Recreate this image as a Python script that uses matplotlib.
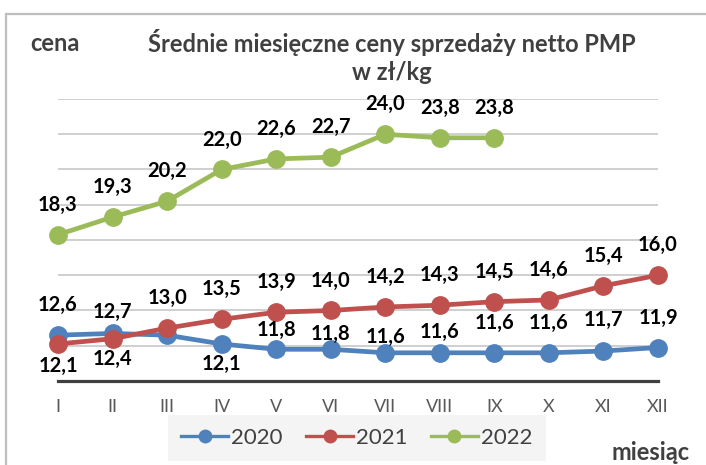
import matplotlib.pyplot as plt
from matplotlib.patches import Rectangle

plt.rcParams['font.family'] = ['Lato', 'DejaVu Sans']

months = ['I', 'II', 'III', 'IV', 'V', 'VI', 'VII', 'VIII', 'IX', 'X', 'XI', 'XII']
ceny_2020 = [12.6, 12.7, 12.6, 12.1, 11.8, 11.8, 11.6, 11.6, 11.6, 11.6, 11.7, 11.9]
ceny_2021 = [12.1, 12.4, 13.0, 13.5, 13.9, 14.0, 14.2, 14.3, 14.5, 14.6, 15.4, 16.0]
ceny_2022 = [18.3, 19.3, 20.2, 22.0, 22.6, 22.7, 24.0, 23.8, 23.8]

# label offsets in pixels (positive = above point), None = no label
off_2020 = [30, 21, None, -20, 19, 15, 16, 21, 30, 30, 31, 30]
off_2021 = [-22, -20] + [30] * 10
off_2022 = [30] * 9

kolory = {'2020': '#4F81BD', '2021': '#C0504D', '2022': '#9BBB59'}

W, H = 706, 465
fig = plt.figure(figsize=(W / 100, H / 100), dpi=100)
ax = fig.add_axes((58 / W, 1 - 381 / H, 600 / W, 282 / H))

# outer chart border (only left/top visible)
fig.patches.append(Rectangle((6 / W, -0.2), 1.2, 1.2 - 14 / H, transform=fig.transFigure,
                             fill=False, edgecolor='#bfbfbf', linewidth=1.6))

x = list(range(12))
for rok, vals, offs in [('2020', ceny_2020, off_2020), ('2021', ceny_2021, off_2021),
                        ('2022', ceny_2022, off_2022)]:
    xs = x[:len(vals)]
    ax.plot(xs, vals, color=kolory[rok], linewidth=3.4, marker='o', markersize=12.5,
            label=rok, clip_on=False, zorder=3)
    for xi, v, o in zip(xs, vals, offs):
        if o is None:
            continue
        ax.annotate(f'{v:.1f}'.replace('.', ','), (xi, v), xytext=(0, o * 0.72),
                    textcoords='offset points', ha='center', va='center',
                    fontsize=14.5, fontweight='bold', color='black', zorder=4)

ax.set_xlim(0, 11)
ax.set_ylim(10, 26)
ax.set_yticks(range(12, 27, 2))
ax.set_yticklabels([])
ax.tick_params(axis='y', length=0)
ax.grid(axis='y', color='#cccccc', linewidth=1.3)
ax.set_axisbelow(True)
ax.set_xticks(x)
ax.set_xticklabels(months, color='#595959', fontsize=13)
ax.tick_params(axis='x', length=0, pad=13)
for s in ['left', 'right', 'top']:
    ax.spines[s].set_visible(False)
ax.spines['bottom'].set_color('#404040')
ax.spines['bottom'].set_linewidth(2.3)

fig.text(392 / W, 1 - 42 / H, 'Średnie miesięczne ceny sprzedaży netto PMP',
         ha='center', va='center', fontsize=17, fontweight='bold', color='#404040')
fig.text(392 / W, 1 - 73 / H, 'w zł/kg',
         ha='center', va='center', fontsize=17, fontweight='bold', color='#404040')
fig.text(30 / W, 1 - 43 / H, 'cena', ha='left', va='center', fontsize=17,
         fontweight='bold', color='#404040')
fig.text(690 / W, 1 - 452 / H, 'miesiąc', ha='right', va='center', fontsize=17,
         fontweight='bold', color='#404040')

leg = fig.legend(loc='center', bbox_to_anchor=(357 / W, 1 - 438 / H), ncol=3,
                 fontsize=16, frameon=True, fancybox=False, handlelength=2.1,
                 handletextpad=0.15, columnspacing=1.05, borderpad=0.6)
leg.get_frame().set_facecolor('#f2f2f2')
leg.get_frame().set_edgecolor('none')
for h in leg.legend_handles:
    h.set_linewidth(2.4)
    h.set_markersize(9)
for t in leg.get_texts():
    t.set_color('#404040')

fig.savefig('out.png', dpi=100)
